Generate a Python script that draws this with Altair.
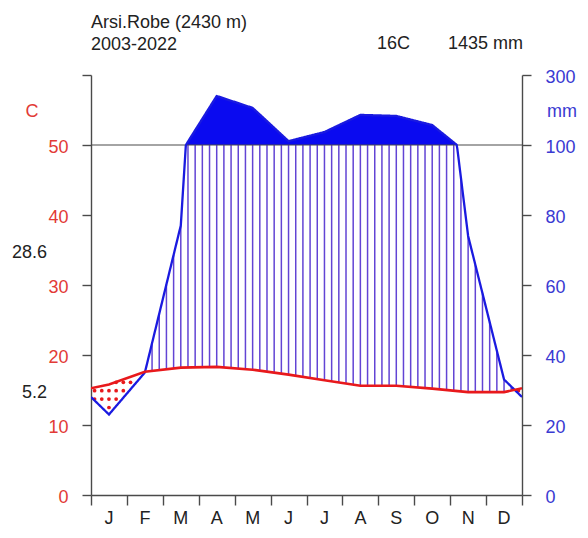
import altair as alt

# ---------------- data ----------------
months = ["J", "F", "M", "A", "M", "J", "J", "A", "S", "O", "N", "D"]
temp = [15.8, 17.6, 18.2, 18.3, 17.9, 17.2, 16.4, 15.6, 15.6, 15.2, 14.7, 14.7]
prec = [23, 35, 77, 240, 206, 111, 137, 186, 183, 157, 74, 33]
axis_ticks = [0, 10, 20, 30, 40, 50, 60]
month_bounds = list(range(13))

station = "Arsi.Robe (2430 m)"
period = "2003-2022"
mean_t = "16C"
total_p = "1435 mm"
tmax_warm = "28.6"
tmin_cold = "5.2"

RED = "#e8191c"
RED_LBL = "#e23a36"
BLUE = "#1a1ae0"
BLUE_LBL = "#3a3ad2"
FILL = "#0a0af0"
HATCH = "#6244d4"
AX = "#4a4a4a"
FONT = "Liberation Sans"

# wrap-around table (Dec before Jan, Jan after Dec) at month mid positions
ext = []
tt = [temp[-1]] + temp + [temp[0]]
pp = [prec[-1]] + prec + [prec[0]]
for i in range(14):
    ext.append({"idx": i, "pos": i - 0.5, "t": tt[i], "p": pp[i]})
mlab = [{"m": m, "mid": i + 0.5} for i, m in enumerate(months)]

xscale = alt.Scale(domain=[0, 12], nice=False, zero=False)
yscale = alt.Scale(domain=[0, 60], nice=False, zero=False)
xaxis = alt.Axis(values=month_bounds, tickSize=10, labels=False, title=None,
                 grid=False, domainColor=AX, tickColor=AX, domainWidth=1.4, tickWidth=1.4)


def X(f):
    return alt.X(f, type="quantitative", scale=xscale, axis=xaxis)


def Y(f, axis=None):
    return alt.Y(f, type="quantitative", scale=yscale, axis=axis)


left_axis = alt.Axis(orient="left", values=axis_ticks, title=None, grid=False,
                     labelExpr="datum.value <= 50 ? datum.label : ''",
                     labelColor=RED_LBL, labelFontSize=18, labelFont=FONT,
                     tickSize=9, labelPadding=14, labelFlush=False, labelOffset=2,
                     domainColor=AX, tickColor=AX, domainWidth=1.4, tickWidth=1.4)
right_axis = alt.Axis(orient="right", values=axis_ticks, title=None, grid=False,
                      labelExpr="datum.value <= 50 ? format(datum.value*2,'d') : format(100+(datum.value-50)*20,'d')",
                      labelColor=BLUE_LBL, labelFontSize=18, labelFont=FONT,
                      tickSize=9, labelPadding=14, labelFlush=False, labelOffset=2,
                      domainColor=AX, tickColor=AX, domainWidth=1.4, tickWidth=1.4)

lk = alt.InlineData(values=ext)


def interp(ch):
    return (ch
            .transform_calculate(i="floor(datum.s + 0.5)")
            .transform_calculate(j="datum.i + 1")
            .transform_calculate(f="datum.s - datum.i + 0.5")
            .transform_lookup(lookup="i", from_=alt.LookupData(data=lk, key="idx", fields=["t", "p"]), as_=["t0", "p0"])
            .transform_lookup(lookup="j", from_=alt.LookupData(data=lk, key="idx", fields=["t", "p"]), as_=["t1", "p1"])
            .transform_calculate(t="datum.t0 + (datum.t1 - datum.t0) * datum.f")
            .transform_calculate(p="datum.p0 + (datum.p1 - datum.p0) * datum.f")
            .transform_calculate(pc="datum.p <= 100 ? datum.p / 2 : 50 + (datum.p - 100) / 20"))


fine = alt.sequence(0, 12.0001, 0.02, as_="s")
coarse = alt.sequence(0.1, 12, 0.2, as_="s")

# humid hatch
hatch = (interp(alt.Chart(coarse))
         .transform_filter("datum.pc > datum.t")
         .transform_calculate(top="min(datum.pc, 50)")
         .mark_rule(color=HATCH, strokeWidth=1.5)
         .encode(x=X("s"), y=Y("t"), y2="top:Q"))

# dry dots
dots = (interp(alt.Chart(coarse))
        .transform_calculate(ys="sequence(0.5, 60, 1.2)")
        .transform_flatten(["ys"])
        .transform_filter("datum.ys < datum.t && datum.ys > datum.pc")
        .mark_circle(color=RED, size=14, opacity=1)
        .encode(x=X("s"), y=Y("ys")))

# >100 mm fill
wet = (interp(alt.Chart(fine))
       .transform_calculate(pa="max(datum.pc, 50)", base="50")
       .mark_area(color=FILL, opacity=1, clip=True)
       .encode(x=X("s"), y=Y("pa"), y2="base:Q"))

# 100 mm / 50 C line
ref = alt.Chart(alt.Data(values=[{"v": 50}])).mark_rule(color=AX, strokeWidth=1.2).encode(y=Y("v"))

# precipitation line
pline = (interp(alt.Chart(fine))
         .mark_line(color=BLUE, strokeWidth=2.3, clip=True)
         .encode(x=X("s"), y=Y("pc", right_axis), order="s:Q"))

# temperature line
tline = (alt.Chart(alt.InlineData(values=ext))
         .mark_line(color=RED, strokeWidth=2.6, clip=True)
         .encode(x=X("pos"), y=Y("t", left_axis), order="pos:Q"))

mlabels = (alt.Chart(alt.InlineData(values=mlab))
           .mark_text(fontSize=18, font=FONT, color="#222", baseline="alphabetic")
           .encode(x=X("mid"), y=alt.value(449), text="m:N"))

one = alt.Data(values=[{"k": 0}])


def txt(s, x, y, align="left", baseline="alphabetic", color="#222"):
    return (alt.Chart(one)
            .mark_text(fontSize=18, font=FONT, color=color, align=align, baseline=baseline)
            .encode(x=alt.value(x), y=alt.value(y), text=alt.datum(s)))


texts = [
    txt(station, 0, -47),
    txt(period, 0, -25),
    txt(mean_t, 286, -26),
    txt(total_p, 357, -26),
    txt("C", -59, 37, align="center", baseline="middle", color=RED_LBL),
    txt("mm", 456, 37, baseline="middle", color=BLUE_LBL),
    txt(tmax_warm, -44, 178, align="right", baseline="middle"),
    txt(tmin_cold, -44, 318, align="right", baseline="middle"),
]

chart = (alt.layer(hatch, dots, wet, ref, pline, tline, mlabels, *texts)
         .resolve_axis(y="independent")
         .properties(width=431, height=420,
                     autosize=alt.AutoSizeParams(type="none"),
                     padding={"left": 83, "top": 67, "right": 58, "bottom": 35})
         .configure_view(stroke=None)
         .configure_text(font=FONT))

chart.save("out.html", embed_options={"renderer": "svg", "actions": False})
